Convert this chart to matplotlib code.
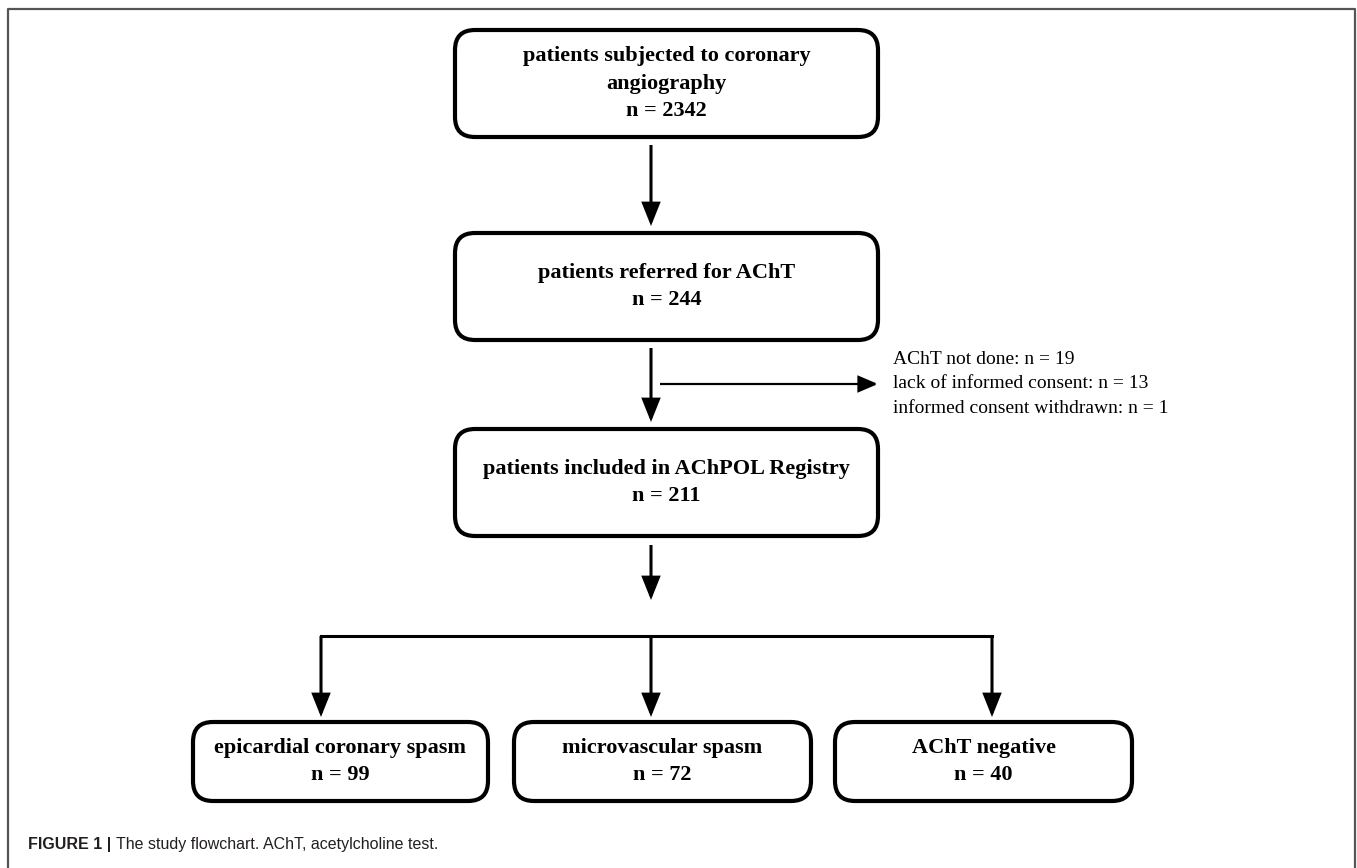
import matplotlib
matplotlib.use("Agg")
import matplotlib.pyplot as plt
from matplotlib.patches import FancyBboxPatch, FancyArrowPatch

# flowchart content
main_titles = ["patients subjected to coronary\nangiography",
               "patients referred for AChT",
               "patients included in AChPOL Registry"]
main_counts = [2342, 244, 211]
excluded_lines = ["AChT not done: n = 19",
                  "lack of informed consent: n = 13",
                  "informed consent withdrawn: n = 1"]
group_titles = ["epicardial coronary spasm", "microvascular spasm", "AChT negative"]
group_counts = [99, 72, 40]
caption_bold = "FIGURE 1 | "
caption_text = "The study flowchart. AChT, acetylcholine test."

# layout (pixels, origin top-left)
W, H = 1357, 868
main_x0, main_x1 = 455, 878
main_y = [(30, 137), (233, 340), (429, 536)]
arrow_x = 651
group_boxes = [(193, 488), (514, 811), (835, 1132)]
group_arrow_x = [321, 651, 992]
group_y = (722, 801)
branch_y = 636

serif = "Liberation Serif"
sans = "Liberation Sans"

fig = plt.figure(figsize=(W / 100, H / 100), dpi=100)
ax = fig.add_axes([0, 0, 1, 1])
ax.set_xlim(0, W)
ax.set_ylim(H, 0)
ax.axis("off")


def box(x0, x1, y0, y1, text):
    p = FancyBboxPatch((x0, y0), x1 - x0, y1 - y0,
                       boxstyle="round,pad=0,rounding_size=20",
                       fc="white", ec="black", lw=3.0)
    ax.add_patch(p)
    ax.text((x0 + x1) / 2, (y0 + y1) / 2, text, ha="center", va="center",
            family=serif, weight="bold", fontsize=16, linespacing=1.48)


def arrow(x0, y0, x1, y1, lw=2.2, hl=0.9, hw=0.36):
    a = FancyArrowPatch((x0, y0), (x1, y1),
                        arrowstyle="-|>,head_length=%s,head_width=%s" % (hl, hw),
                        mutation_scale=15, lw=lw, color="black",
                        shrinkA=0, shrinkB=0, joinstyle="miter",
                        capstyle="butt")
    ax.add_patch(a)


for (y0, y1), t, n in zip(main_y, main_titles, main_counts):
    box(main_x0, main_x1, y0, y1, "%s\nn = %d" % (t, n))

arrow(arrow_x, 145, arrow_x, 226)
arrow(arrow_x, 348, arrow_x, 422)
arrow(arrow_x, 545, arrow_x, 600)

# excluded patients
arrow(660, 384, 878, 384, lw=1.6, hl=0.8, hw=0.34)
ax.text(893, 384, "\n".join(excluded_lines), ha="left", va="center",
        family=serif, fontsize=14, linespacing=1.55)

# branches
ax.plot([group_arrow_x[0], group_arrow_x[-1]], [branch_y, branch_y],
        color="black", lw=2.2, solid_capstyle="projecting")
for gx in group_arrow_x:
    arrow(gx, branch_y, gx, 717)

for (x0, x1), t, n in zip(group_boxes, group_titles, group_counts):
    box(x0, x1, group_y[0], group_y[1], "%s\nn = %d" % (t, n))

# frame
ax.plot([8, 8, 1355, 1355], [H, 9, 9, H], color="#555555", lw=1.6)

# caption
t1 = ax.text(28, 845, caption_bold, ha="left", va="center",
             family=sans, weight="bold", fontsize=11.5, color="#231f20")
fig.canvas.draw()
bb = t1.get_window_extent().transformed(ax.transData.inverted())
ax.text(bb.x1, 845, caption_text, ha="left", va="center",
        family=sans, fontsize=11.5, color="#231f20")

fig.savefig("out.png", dpi=100)
